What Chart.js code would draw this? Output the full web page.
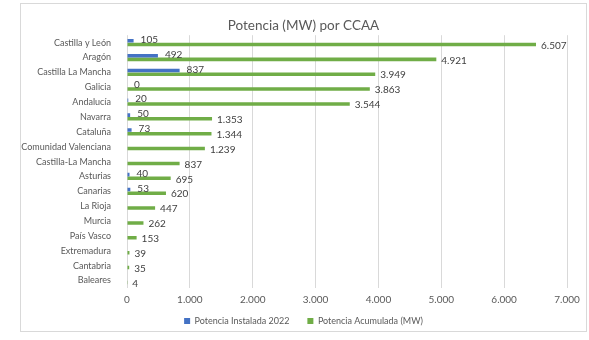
<!DOCTYPE html>
<html>
<head>
<meta charset="utf-8">
<script src="https://cdn.jsdelivr.net/npm/chart.js@4"></script>
<style>
  body { margin: 0; background: #fff; }
  #box {
    position: absolute; left: 20px; top: 3px;
    width: 565px; height: 327px;
    border: 1px solid #d9d9d9; background: #fff;
  }
  #potenciaChart { position: absolute; left: 21px; top: 0; }
</style>
</head>
<body>
<div id="box"></div>
<canvas id="potenciaChart" width="565" height="340"></canvas>
<script>
// Comunidades autonomas
const regions = [
    "Castilla y León", "Aragón", "Castilla La Mancha", "Galicia", "Andalucía",
    "Navarra", "Cataluña", "Comunidad Valenciana", "Castilla-La Mancha",
    "Asturias", "Canarias", "La Rioja", "Murcia", "País Vasco",
    "Extremadura", "Cantabria", "Baleares"
];

// Potencia instalada en 2022 (MW)
const installed2022 = [105, 492, 837, 0, 20, 50, 73, null, null, 40, 53, null, null, null, null, null, null];

// Potencia acumulada (MW)
const accumulated = [6507, 4921, 3949, 3863, 3544, 1353, 1344, 1239, 837, 695, 620, 447, 262, 153, 39, 35, 4];

const xTicks = [0, 1000, 2000, 3000, 4000, 5000, 6000, 7000];

const FONT = "Lato, 'Liberation Sans', sans-serif";

// Spanish style thousands separator
function fmt(v) {
    return String(v).replace(/\B(?=(\d{3})+(?!\d))/g, ".");
}

// Draw the value next to each bar end
const valueLabels = {
    id: 'valueLabels',
    afterDatasetsDraw(chart) {
        const ctx = chart.ctx;
        ctx.save();
        ctx.font = "10px " + FONT;
        ctx.fillStyle = "#404040";
        ctx.textAlign = "left";
        ctx.textBaseline = "middle";
        chart.data.datasets.forEach((ds, i) => {
            const meta = chart.getDatasetMeta(i);
            meta.data.forEach((bar, j) => {
                const v = ds.data[j];
                if (v === null || v === undefined) return;
                const gap = i === 0 ? 7 : 5;
                ctx.fillText(fmt(v), bar.x + gap, bar.y + (i === 0 ? -1 : 1));
            });
        });
        ctx.restore();
    }
};

const ctx = document.getElementById('potenciaChart').getContext('2d');
const potenciaChart = new Chart(ctx, {
    type: 'bar',
    data: {
        labels: regions,
        datasets: [{
            label: 'Potencia Instalada 2022',
            data: installed2022,
            backgroundColor: '#4472C4',
            categoryPercentage: 0.5,
            barPercentage: 0.95
        }, {
            label: 'Potencia Acumulada (MW)',
            data: accumulated,
            backgroundColor: '#70AD47',
            categoryPercentage: 0.5,
            barPercentage: 0.95
        }]
    },
    options: {
        indexAxis: 'y',
        responsive: false,
        animation: false,
        layout: { padding: { left: 0, right: 0, top: 18, bottom: 4.5 } },
        plugins: {
            title: {
                display: true,
                text: 'Potencia (MW) por CCAA',
                color: '#595959',
                font: { family: FONT, size: 13.5, weight: 'normal' },
                padding: { top: 0, bottom: 1 }
            },
            legend: {
                position: 'bottom',
                labels: {
                    color: '#595959',
                    font: { family: FONT, size: 9 },
                    boxWidth: 6,
                    boxHeight: 6,
                    padding: 4.5,
                    // a bit more room between the two items
                    generateLabels(chart) {
                        const items = Chart.defaults.plugins.legend.labels.generateLabels(chart);
                        items.forEach((it, i) => {
                            if (i < items.length - 1) it.text += '\u2002\u2002\u2002';
                        });
                        return items;
                    }
                }
            },
            tooltip: { enabled: false }
        },
        scales: {
            x: {
                min: 0,
                max: 7000,
                afterBuildTicks(scale) {
                    scale.ticks = xTicks.map(v => ({ value: v }));
                },
                ticks: {
                    color: '#595959',
                    font: { family: FONT, size: 10 },
                    padding: 6,
                    callback: v => fmt(v)
                },
                grid: { color: '#d9d9d9', drawTicks: false },
                border: { display: false }
            },
            y: {
                afterFit(scale) { scale.width = 106; },
                ticks: {
                    color: '#595959',
                    font: { family: FONT, size: 9 },
                    autoSkip: false,
                    padding: 8
                },
                grid: { display: false },
                border: { display: false }
            },
            // empty right axis, only keeps a margin right of the plot
            // so the title and legend stay centred on the whole box
            yRight: {
                type: 'linear',
                position: 'right',
                afterFit(scale) { scale.width = 19; },
                ticks: { display: false },
                grid: { display: false },
                border: { display: false }
            }
        }
    },
    plugins: [valueLabels]
});
</script>
</body>
</html>
